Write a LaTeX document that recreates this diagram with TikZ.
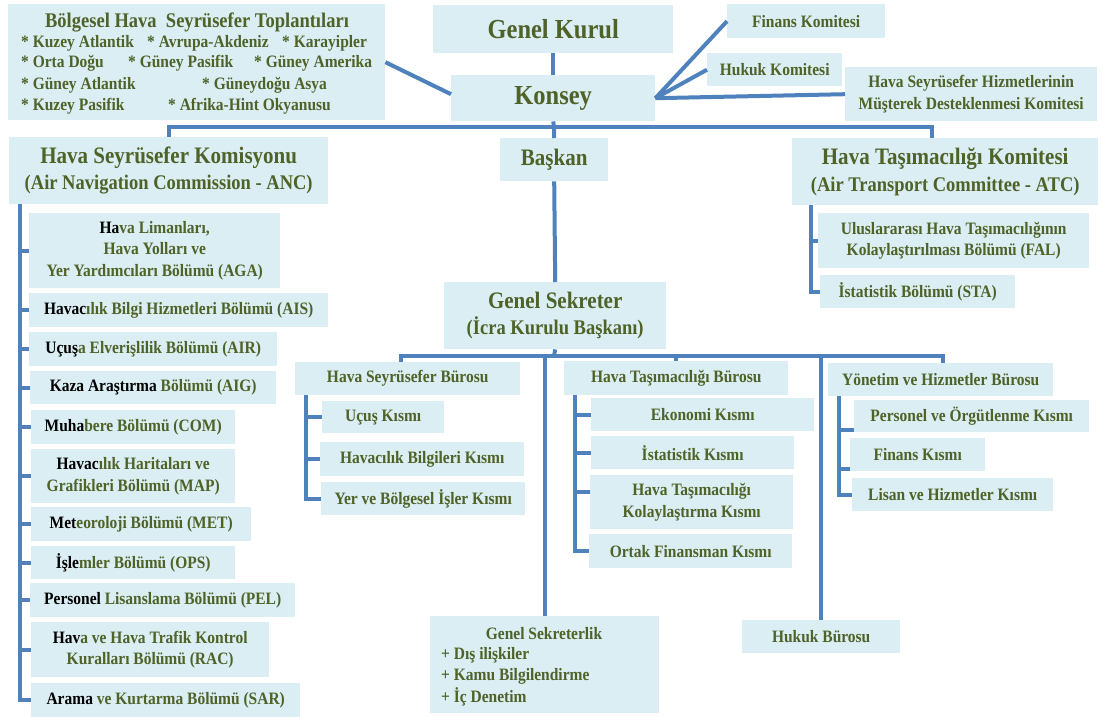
\documentclass[tikz,border=0pt]{standalone}
\usepackage{fontspec}
\setmainfont{Liberation Serif}[FakeStretch=0.89]
\definecolor{boxc}{HTML}{DAEEF3}
\definecolor{txtc}{HTML}{4F6228}
\definecolor{linec}{HTML}{4F81BD}
\newcommand{\bk}[1]{\textcolor{black}{#1}}
\tikzset{
  bx/.style={fill=boxc, text=txtc, inner sep=0pt, align=center, anchor=north west,
    font=\bfseries\fontsize{17.4}{21.5}\selectfont},
  bigtxt/.style={font=\bfseries\fontsize{20.8}{26.5}\selectfont},
  hugetxt/.style={font=\bfseries\fontsize{27.5}{30}\selectfont},
  lbl/.style={text=txtc, inner sep=0pt, anchor=west, font=\bfseries\fontsize{17.4}{21.5}\selectfont},
  conn/.style={draw=linec, line width=4pt, line join=miter},
}
\begin{document}
\begin{tikzpicture}[x=1pt,y=-1pt]
\useasboundingbox (0,0) rectangle (1103,717);

% top level
\node[bx, minimum width=377pt, minimum height=116pt] (bolg) at (8,4) {};
\node[lbl, anchor=center, font=\bfseries\fontsize{20.8}{24}\selectfont] (bolgT) at (197,22) {Bölgesel Hava\ \ Seyrüsefer Toplantıları};
\node[lbl] (b1) at (21,43) {* Kuzey Atlantik};
\node[lbl] (b2) at (147,43) {* Avrupa-Akdeniz};
\node[lbl] (b3) at (282,43) {* Karayipler};
\node[lbl] (b4) at (21,63.5) {* Orta Doğu};
\node[lbl] (b5) at (128,63.5) {* Güney Pasifik};
\node[lbl] (b6) at (254,63.5) {* Güney Amerika};
\node[lbl] (b7) at (21,85) {* Güney Atlantik};
\node[lbl] (b8) at (202,85) {* Güneydoğu Asya};
\node[lbl] (b9) at (21,106) {* Kuzey Pasifik};
\node[lbl] (b10) at (168,106) {* Afrika-Hint Okyanusu};

\node[bx, hugetxt, minimum width=240pt, minimum height=48pt] (gk) at (433,5) {Genel Kurul};
\node[bx, hugetxt, minimum width=204pt, minimum height=46pt] (konsey) at (451,75) {Konsey};
\node[bx, minimum width=158pt, minimum height=34pt] (fin) at (727,4) {Finans Komitesi};
\node[bx, minimum width=135pt, minimum height=33pt] (huk) at (707,53) {Hukuk Komitesi};
\node[bx, minimum width=252pt, minimum height=54pt] (mus) at (845,67) {Hava Seyrüsefer Hizmetlerinin\\Müşterek Desteklenmesi Komitesi};

% second level
\node[bx, bigtxt, minimum width=319pt, minimum height=67pt] (anc) at (9,137) {{\fontsize{23.6}{27}\selectfont Hava Seyrüsefer Komisyonu}\\(Air Navigation Commission - ANC)};
\node[bx, minimum width=108pt, minimum height=43pt, font=\bfseries\fontsize{23.6}{26}\selectfont] (baskan) at (500,138) {Başkan};
\node[bx, bigtxt, minimum width=306pt, minimum height=67pt] (atc) at (792,138) {{\fontsize{23.6}{26}\selectfont Hava Taşımacılığı Komitesi}\\(Air Transport Committee - ATC)};

% ANC children
\node[bx, minimum width=251pt, minimum height=75pt] (aga) at (29,213) {\bk{Ha}va Limanları,\\Hava Yolları ve\\Yer Yardımcıları Bölümü (AGA)};
\node[bx, minimum width=299pt, minimum height=34pt] (ais) at (29,293) {\bk{Havac}ılık Bilgi Hizmetleri Bölümü (AIS)};
\node[bx, minimum width=248pt, minimum height=34pt] (air) at (29,332) {\bk{Uçuş}a Elverişlilik Bölümü (AIR)};
\node[bx, minimum width=246pt, minimum height=33pt] (aig) at (30,371) {\bk{Kaza Araştırma} Bölümü (AIG)};
\node[bx, minimum width=204pt, minimum height=34pt] (com) at (31,410) {\bk{Muha}bere Bölümü (COM)};
\node[bx, minimum width=204pt, minimum height=54pt] (map) at (31,449) {\bk{Havac}ılık Haritaları ve\\Grafikleri Bölümü (MAP)};
\node[bx, minimum width=220pt, minimum height=34pt] (met) at (31,507) {\bk{Met}eoroloji Bölümü (MET)};
\node[bx, minimum width=204pt, minimum height=33pt] (ops) at (31,546) {\bk{İşle}mler Bölümü (OPS)};
\node[bx, minimum width=265pt, minimum height=34pt] (pel) at (30,583) {\bk{Personel} Lisanslama Bölümü (PEL)};
\node[bx, minimum width=238pt, minimum height=55pt] (rac) at (31,622) {\bk{Hav}a ve Hava Trafik Kontrol\\Kuralları Bölümü (RAC)};
\node[bx, minimum width=269pt, minimum height=34pt] (sar) at (31,683) {\bk{Arama} ve Kurtarma Bölümü (SAR)};

% ATC children
\node[bx, minimum width=271pt, minimum height=55pt] (fal) at (818,213) {Uluslararası Hava Taşımacılığının\\Kolaylaştırılması Bölümü (FAL)};
\node[bx, minimum width=195pt, minimum height=33pt] (sta) at (820,275) {İstatistik Bölümü (STA)};

% Genel Sekreter
\node[bx, bigtxt, minimum width=222pt, minimum height=67pt] (gs) at (444,282) {{\fontsize{23.6}{26}\selectfont Genel Sekreter}\\(İcra Kurulu Başkanı)};

\node[bx, minimum width=225pt, minimum height=33pt] (hsb) at (295,362) {Hava Seyrüsefer Bürosu};
\node[bx, minimum width=122pt, minimum height=32pt] (ucus) at (322,401) {Uçuş Kısmı};
\node[bx, minimum width=204pt, minimum height=34pt] (hbilg) at (320,442) {Havacılık Bilgileri Kısmı};
\node[bx, minimum width=204pt, minimum height=33pt] (yer) at (321,482) {Yer ve Bölgesel İşler Kısmı};

\node[bx, minimum width=224pt, minimum height=34pt] (htb) at (564,361) {Hava Taşımacılığı Bürosu};
\node[bx, minimum width=223pt, minimum height=33pt] (ekon) at (591,398) {Ekonomi Kısmı};
\node[bx, minimum width=203pt, minimum height=33pt] (istat) at (591,436) {İstatistik Kısmı};
\node[bx, minimum width=203pt, minimum height=54pt] (kolay) at (590,475) {Hava Taşımacılığı\\Kolaylaştırma Kısmı};
\node[bx, minimum width=203pt, minimum height=34pt] (ortak) at (589,534) {Ortak Finansman Kısmı};

\node[bx, minimum width=225pt, minimum height=33pt] (yhb) at (828,363) {Yönetim ve Hizmetler Bürosu};
\node[bx, minimum width=235pt, minimum height=32pt] (pers) at (854,400) {Personel ve Örgütlenme Kısmı};
\node[bx, minimum width=135pt, minimum height=33pt] (fink) at (850,438) {Finans Kısmı};
\node[bx, minimum width=201pt, minimum height=33pt] (lisan) at (852,478) {Lisan ve Hizmetler Kısmı};

\node[bx, minimum width=229pt, minimum height=97pt] (gsl) at (430,616) {};
\node[lbl, anchor=center] (gslT) at (544,634) {Genel Sekreterlik};
\node[lbl] (g1) at (441,655) {+ Dış ilişkiler};
\node[lbl] (g2) at (441,676) {+ Kamu Bilgilendirme};
\node[lbl] (g3) at (441,697) {+ İç Denetim};

\node[bx, minimum width=158pt, minimum height=33pt] (hb) at (742,620) {Hukuk Bürosu};

% connectors top
\draw[conn] (gk.south) -- (konsey.north);
\draw[conn] (bolg.east) -- ([yshift=4pt]konsey.west);
\draw[conn] (konsey.east) -- (fin.west);
\draw[conn] (konsey.east) -- (huk.west);
\draw[conn] (konsey.east) -- (mus.west);

\coordinate (kbar) at (554,127);
\coordinate (atcdrop) at (932,127);
\draw[conn] (konsey.south) -- (kbar);
\draw[conn] (anc.north) -- (anc.north |- kbar) -- (atcdrop) -- (atcdrop |- atc.north);
\draw[conn] (kbar) -- (baskan.north);
\draw[conn] (baskan.south) -- (gs.north);

% Genel Sekreter bar
\coordinate (gbar) at (554,356);
\coordinate (gl) at (401,356);
\coordinate (gr) at (943,356);
\draw[conn] (gs.south) -- (gbar);
\draw[conn] (gl |- hsb.north) -- (gl) -- (gr) -- (gr |- yhb.north);
\draw[conn] (gsl.north |- gbar) -- (gsl.north);
\draw[conn] (htb.north |- gbar) -- (htb.north);
\draw[conn] (hb.north |- gbar) -- (hb.north);

% ANC spine
\coordinate (ancsp) at (20,204);
\draw[conn] (ancsp) |- (sar.west);
\foreach \n in {aga,ais,air,aig,com,map,met,ops,pel,rac}
  \draw[conn] (\n.west) -- (\n.west -| ancsp);

% ATC spine
\coordinate (atcsp) at (811,205);
\draw[conn] (atcsp) |- (sta.west);
\draw[conn] (fal.west) -- (fal.west -| atcsp);

% HSB spine
\coordinate (hsbsp) at (306,395);
\draw[conn] (hsbsp) |- (yer.west);
\draw[conn] (ucus.west) -- (ucus.west -| hsbsp);
\draw[conn] (hbilg.west) -- (hbilg.west -| hsbsp);

% HTB spine
\coordinate (htbsp) at (575,395);
\draw[conn] (htbsp) |- (ortak.west);
\draw[conn] (ekon.west) -- (ekon.west -| htbsp);
\draw[conn] (istat.west) -- (istat.west -| htbsp);
\draw[conn] ([yshift=10pt]kolay.west) -- ([yshift=10pt]kolay.west -| htbsp);

% YHB spine
\coordinate (yhbsp) at (839,396);
\draw[conn] (yhbsp) |- (lisan.west);
\draw[conn] ([yshift=2pt]pers.south west) -- ([yshift=2pt]pers.south west -| yhbsp);
\draw[conn] ([yshift=2pt]fink.south west) -- ([yshift=2pt]fink.south west -| yhbsp);
\end{tikzpicture}
\end{document}
